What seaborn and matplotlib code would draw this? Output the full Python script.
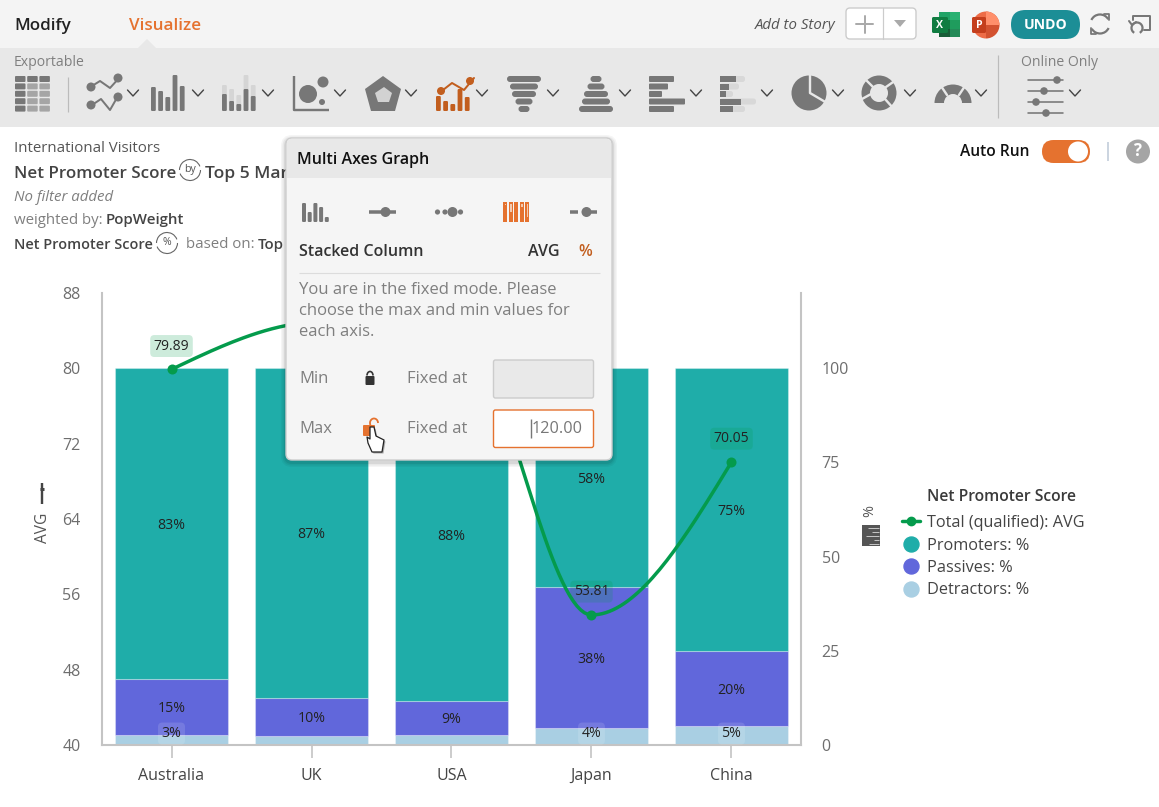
import numpy as np
import pandas as pd
import matplotlib
matplotlib.use("Agg")
import matplotlib.pyplot as plt
import seaborn as sns
from matplotlib.lines import Line2D
from matplotlib.patches import FancyBboxPatch, Rectangle, Circle, Polygon, Wedge, Arc

# ---- chart data ----
markets = ["Australia", "UK", "USA", "Japan", "China"]
avg_score = [79.89, 84.9, 85.4, 53.81, 70.05]
promoters = [82.6, 87.4, 88.3, 58.1, 75.1]
passives = [14.8, 10.2, 9.0, 37.5, 19.9]
detractors = [2.6, 2.4, 2.7, 4.4, 5.0]
avg_labelled = [True, False, False, True, True]
detractors_labelled = [True, False, False, True, True]
avg_ticks = [40, 48, 56, 64, 72, 80, 88]
pct_ticks = [0, 25, 50, 75, 100]

W, H = 1159, 807
GREEN, TEAL, INDIGO, SKY = "#049B4C", "#1FADA9", "#6167DB", "#A9CFE3"
ORANGE, ICON, TXT, MUTED = "#E5722F", "#777777", "#3C3C3C", "#7F7F7F"

sns.set_theme(style="white")
plt.rcParams["font.family"] = ["Open Sans", "DejaVu Sans"]
plt.rcParams["axes.unicode_minus"] = False

fig = plt.figure(figsize=(W / 100, H / 100), dpi=100, facecolor="white")


def px_layer(z):
    ax = fig.add_axes([0, 0, 1, 1], zorder=z)
    ax.set_xlim(0, W)
    ax.set_ylim(H, 0)
    ax.axis("off")
    ax.patch.set_visible(False)
    return ax


under = px_layer(0)
over = px_layer(5)


def label(ax, x, y, s, px=16, color=TXT, weight="normal", style="normal", ha="left", **kw):
    ax.text(x, y + 1.8, s, fontsize=px * 0.72, color=color, weight=weight, style=style,
            ha=ha, va="center", **kw)


def rbox(ax, x0, y0, x1, y1, r, fc, ec="none", lw=0, **kw):
    p = FancyBboxPatch((x0 + r, y0 + r), x1 - x0 - 2 * r, y1 - y0 - 2 * r,
                       boxstyle=f"round,pad={r},rounding_size={r}",
                       fc=fc, ec=ec, lw=lw, **kw)
    ax.add_patch(p)
    return p


def seg(ax, xs, ys, c=ICON, lw=2.0, **kw):
    ax.plot(xs, ys, color=c, lw=lw * 0.72, solid_capstyle=kw.pop("cap", "round"), **kw)


def dot(ax, x, y, r, c=ICON, **kw):
    ax.add_patch(Circle((x, y), r, fc=c, ec="none", **kw))


def chevron(ax, x, y=93):
    seg(ax, [x - 5.5, x, x + 5.5], [y - 3, y + 3, y - 3], c="#444444", lw=1.4)


# ---- page bands ----
under.add_patch(Rectangle((0, 0), W, 48, fc="#F4F4F4", ec="none"))
under.add_patch(Rectangle((0, 48), W, 79, fc="#E8E8E8", ec="none"))
under.add_patch(Polygon([[138, 48], [147, 39], [156, 48]], fc="#E8E8E8", ec="none"))

label(under, 14, 24, "Modify", 17, "#222222", weight=600)
label(under, 129, 24, "Visualize", 17, ORANGE, weight=600)
label(under, 14, 60.5, "Exportable", 14, MUTED)
label(under, 1021, 60.5, "Online Only", 14, MUTED)
label(under, 835, 23.5, "Add to Story", 15, "#555555", style="italic", ha="right")

# story button
rbox(under, 846, 8, 916, 39, 4, "white", "#CCCCCC", 1)
seg(under, [883, 883], [8, 39], c="#CCCCCC", lw=1.2)
seg(under, [856, 873], [24, 24], c="#AAAAAA", lw=2)
seg(under, [864.5, 864.5], [15.5, 32.5], c="#AAAAAA", lw=2)
under.add_patch(Polygon([[894, 20], [906, 20], [900, 27]], fc="#AAAAAA", ec="none"))

# spreadsheet export
for i, col in enumerate(["#21A366", "#107C41", "#185C37"]):
    under.add_patch(Rectangle((939, 12 + i * 8.3), 21, 8.6, fc=col, ec="none"))
under.add_patch(Rectangle((949.5, 12), 10.5, 25, fc="#33C481", ec="none", alpha=0.45))
rbox(under, 932, 17, 948, 33, 1.5, "#107C41")
label(under, 940, 23.5, "X", 10.5, "white", weight="bold", ha="center")

# slides export
under.add_patch(Wedge((986, 25), 13.5, -90, 90, fc="#D35230", ec="none"))
under.add_patch(Wedge((986, 25), 13.5, 90, 270, fc="#ED6C47", ec="none"))
under.add_patch(Wedge((986, 25), 13.5, 270, 360, fc="#FF8F6B", ec="none"))
rbox(under, 972, 17, 986, 33, 1.5, "#C43E1C")
label(under, 979, 23.5, "P", 10.5, "white", weight="bold", ha="center")

rbox(under, 1011, 10, 1080, 39, 14.5, "#1C8E96")
label(under, 1045.5, 23, "UNDO", 14, "white", weight="bold", ha="center")

# refresh icon
under.add_patch(Arc((1100, 24), 19, 19, theta1=205, theta2=330, ec=ICON, lw=1.6))
under.add_patch(Arc((1100, 24), 19, 19, theta1=25, theta2=150, ec=ICON, lw=1.6))
seg(under, [1104, 1109, 1109], [14, 14, 20], c=ICON, lw=1.8)
seg(under, [1091, 1091, 1096], [28, 34, 34], c=ICON, lw=1.8)

# presentation icon
seg(under, [1133, 1133, 1150, 1150, 1144], [20, 16, 16, 30, 30], lw=2)
under.add_patch(Arc((1137, 28), 11, 11, theta1=-240, theta2=60, ec=ICON, lw=1.6))
seg(under, [1129, 1132, 1136], [21, 25, 22], lw=2)

# table icon
for r in range(5):
    for c in range(3):
        fc = "#777777" if r == 0 or c == 0 else "#A5A5A5"
        rbox(under, 15 + c * 12.2, 76 + r * 7.4, 25.5 + c * 12.2, 82 + r * 7.4, 1, fc)
seg(under, [68, 68], [77, 112], c="#BBBBBB", lw=1.2, cap="butt")

# line icon
seg(under, [92, 100, 110, 120], [86, 81, 88, 77])
dot(under, 91, 87, 4.5)
dot(under, 118, 78, 4.5)
seg(under, [92, 101, 110, 118], [105, 99, 110, 96])
dot(under, 91, 105, 4.5)
dot(under, 118, 97, 4.5)
chevron(under, 133)


def col_icon(ax, x0, heights, base=111, w=4.8, gap=7.2, c=ICON):
    for i, h in enumerate(heights):
        rbox(ax, x0 + i * gap, base - h, x0 + i * gap + w, base, 1.2, c)


col_icon(under, 151, [24, 20, 14, 36, 25])
chevron(under, 198)

# shadow-column icon
col_icon(under, 222, [26, 22, 16, 36, 26], c="#D5D5D5")
col_icon(under, 222, [17, 10, 7, 22, 15])
chevron(under, 268)

# bubble icon
seg(under, [294, 294, 329], [76, 110, 110], lw=2.4, cap="butt")
dot(under, 308, 94, 9)
dot(under, 323, 82, 5.5)
dot(under, 322, 102, 3)
chevron(under, 340)

# radar icon
under.add_patch(Polygon([[383, 76], [401, 89], [395, 111], [371, 111], [365, 89]], fc=ICON, ec="none"))
under.add_patch(Polygon([[384, 87], [392, 93], [389, 102], [378, 102], [375, 93]], fc="#D2D2D2", ec="none"))
chevron(under, 411)

# combo icon, highlighted
seg(under, [443, 452, 464, 474], [90, 83, 90, 78], c="#C25E1E")
dot(under, 441, 91, 4, c="#C25E1E")
dot(under, 470, 81, 4, c="#C25E1E")
col_icon(under, 436, [15, 10, 7, 22, 14], c="#C25E1E")
chevron(under, 482)

# funnel icon
for i, half in enumerate([17, 14, 12, 8.5, 5.5]):
    rbox(under, 524 - half, 76 + i * 7.5, 524 + half, 82 + i * 7.5, 3, ICON)
chevron(under, 553)

# pyramid icon
for i, half in enumerate([5.5, 8.5, 12, 14, 17]):
    rbox(under, 596 - half, 76 + i * 7.5, 596 + half, 82 + i * 7.5, 3, ICON)
chevron(under, 625)

# horizontal bars icon
for i, w_ in enumerate([25, 19, 13, 36, 25]):
    rbox(under, 649, 76 + i * 7.5, 649 + w_, 82 + i * 7.5, 1, ICON)
chevron(under, 696)

# stacked horizontal bars icon
for i, (a, b) in enumerate(zip([25, 19, 13, 36, 25], [16, 9, 6, 21, 13])):
    rbox(under, 720, 76 + i * 7.5, 720 + a, 82 + i * 7.5, 2.5, "#D8D8D8")
    under.add_patch(Rectangle((720, 76 + i * 7.5), b, 6, fc=ICON, ec="none"))
chevron(under, 767)

# pie icon
dot(under, 809, 93, 17.5)
seg(under, [810, 810, 827], [75, 93, 103], c="#E8E8E8", lw=2.4)
chevron(under, 838)

# donut icon
under.add_patch(Wedge((879, 93), 17.5, 0, 360, width=8.5, fc=ICON, ec="none"))
seg(under, [866, 873], [80, 87], c="#E8E8E8", lw=2.4)
seg(under, [885, 893], [99, 108], c="#E8E8E8", lw=2.4)
seg(under, [862, 871], [99, 94], c="#E8E8E8", lw=2.4)
seg(under, [886, 896], [87, 80], c="#E8E8E8", lw=2.4)
chevron(under, 910)

# gauge icon
under.add_patch(Wedge((953, 103), 18.5, 180, 360, width=9.5, fc=ICON, ec="none"))
seg(under, [941, 947], [86, 95], c="#E8E8E8", lw=2.4)
seg(under, [965, 959], [86, 95], c="#E8E8E8", lw=2.4)
chevron(under, 981)

seg(under, [998, 998], [55, 118], c="#BBBBBB", lw=1.2, cap="butt")

# slider icon
for yy, xd in zip([80, 91, 102, 113], [1057, 1044, 1036, 1046]):
    seg(under, [1028, 1063], [yy, yy], c=ICON, lw=1.6)
    dot(under, xd, yy, 3.8)
chevron(under, 1075)

# ---- report headings ----
label(under, 14, 147, "International Visitors", 15, "#555555")
label(under, 14, 172.5, "Net Promoter Score", 17, "#444444", weight=600)
label(under, 205, 172.5, "Top 5 Markets", 17.5, "#444444", weight=600)
label(under, 14, 195.5, "No filter added", 15, MUTED, style="italic")
label(under, 14, 218.5, "weighted by: ", 15, MUTED)
label(under, 106, 218.5, "PopWeight", 15, "#444444", weight=600)
label(under, 14, 243, "Net Promoter Score", 14.5, "#444444", weight=600)
label(under, 186, 243, "based on:", 15, MUTED)
label(under, 258, 243, "Top", 15, "#444444", weight=600)


def swap_badge(ax, cx, cy, s):
    ax.add_patch(Arc((cx, cy), 21, 21, theta1=0, theta2=160, ec="#666666", lw=0.8))
    ax.add_patch(Arc((cx, cy), 21, 21, theta1=180, theta2=340, ec="#666666", lw=0.8))
    label(ax, cx, cy - 2, s, 10.5, "#555555", ha="center")


swap_badge(under, 190, 170, "by")
swap_badge(under, 167, 243, "%")

# run controls
label(under, 960, 150, "Auto Run", 15.5, "#111111", weight=600)
rbox(under, 1042, 140, 1090, 163, 11.5, ORANGE)
dot(under, 1078, 151.5, 10, c="white")
seg(under, [1108, 1108], [142, 161], c="#BCC8D6", lw=1.5, cap="butt")
dot(under, 1138, 151.5, 12, c="#A5A5A5")
label(under, 1138, 149.5, "?", 17, "white", weight="bold", ha="center")

# ---- stacked percentages on the right scale ----
ax_pct = fig.add_axes([101.5 / W, 1 - 745 / H, 700 / W, 452 / H], zorder=1)
ax_pct.patch.set_visible(False)
segments = pd.DataFrame({"market": markets, "detractors": detractors,
                         "passives": passives, "promoters": promoters})
floor = np.zeros(len(markets))
for name, col in [("detractors", SKY), ("passives", INDIGO), ("promoters", TEAL)]:
    sns.barplot(data=segments, x="market", y=name, bottom=floor, color=col, width=0.814,
                saturation=1, edgecolor=(1, 1, 1, 0.3), linewidth=0.8, ax=ax_pct, zorder=2)
    if name == "detractors":
        for i, v in enumerate(segments[name]):
            if detractors_labelled[i]:
                ax_pct.annotate(f"{v:.0f}%", (i, 3.4), xytext=(0, -1), textcoords="offset points",
                                ha="center", va="center", fontsize=10.2, color="#222222", zorder=4,
                                bbox=dict(boxstyle="round,pad=0.25,rounding_size=0.3",
                                          fc=(1, 1, 1, 0.13), ec="none"))
    else:
        for i, v in enumerate(segments[name]):
            ax_pct.annotate(f"{v:.0f}%", (i, floor[i] + v / 2), xytext=(0, -1),
                            textcoords="offset points", ha="center", va="center",
                            fontsize=10.2, color="#222222", zorder=4)
    floor = floor + segments[name].to_numpy()

ax_pct.set_ylim(0, 120)
ax_pct.set_xlim(-0.5, 4.5)
ax_pct.set_xlabel("")
ax_pct.set_ylabel("")
ax_pct.set_xticks(range(len(markets)))
ax_pct.set_xticklabels(markets)
ax_pct.tick_params(axis="x", length=9, width=1.2, color="#C4C4C4", pad=7.3, labelsize=11.5,
                   labelcolor="#444444", bottom=True)
for side, sp in ax_pct.spines.items():
    sp.set_visible(side in ("left", "right", "bottom"))
    sp.set_color("#C4C4C4")
    sp.set_linewidth(1.5)

# ---- smoothed average line on the left scale ----
ax_avg = ax_pct.twinx()
ax_avg.set_zorder(2)
ax_avg.patch.set_visible(False)
ax_avg.set_ylim(40, 88)

# twinx moves the host ticks to the left, so sides are assigned from here on
ax_pct.yaxis.tick_right()
ax_pct.set_yticks(pct_ticks)
ax_pct.set_yticklabels([str(v) for v in pct_ticks])
ax_pct.tick_params(axis="y", length=0, pad=14.5, labelsize=11.5, labelcolor="#6E6E6E",
                   right=False, left=False, labelright=True, labelleft=False)
ax_avg.yaxis.tick_left()
ax_avg.yaxis.set_label_position("left")


def monotone_curve(xs, ys, n=40):
    xs, ys = np.asarray(xs, float), np.asarray(ys, float)
    d = np.diff(ys) / np.diff(xs)
    m = np.zeros_like(ys)
    for i in range(1, len(ys) - 1):
        if d[i - 1] * d[i] > 0:
            m[i] = 2 * d[i - 1] * d[i] / (d[i - 1] + d[i])
    m[0] = 1.5 * d[0] - 0.5 * m[1]
    m[-1] = 1.5 * d[-1] - 0.5 * m[-2]
    gx, gy = [], []
    for i in range(len(xs) - 1):
        t = np.linspace(0, 1, n)
        h = xs[i + 1] - xs[i]
        gx.append(xs[i] + h * t)
        gy.append((2 * t**3 - 3 * t**2 + 1) * ys[i] + (t**3 - 2 * t**2 + t) * h * m[i]
                  + (-2 * t**3 + 3 * t**2) * ys[i + 1] + (t**3 - t**2) * h * m[i + 1])
    return np.concatenate(gx), np.concatenate(gy)


xpos = np.arange(len(markets))
grid_x, grid_y = monotone_curve(xpos, avg_score)
sns.lineplot(x=grid_x, y=grid_y, color=GREEN, linewidth=2.5, ax=ax_avg, zorder=3, legend=False)
sns.scatterplot(x=xpos, y=avg_score, color=GREEN, s=52, linewidth=0, ax=ax_avg, zorder=4, legend=False)
for i, v in enumerate(avg_score):
    if avg_labelled[i]:
        ax_avg.annotate(f"{v:.2f}", (i, v), xytext=(0, 16.8), textcoords="offset points",
                        ha="center", va="center", fontsize=10, color="#222222", zorder=5,
                        bbox=dict(boxstyle="round,pad=0.25,rounding_size=0.3",
                                  fc=(0.02, 0.61, 0.3, 0.2), ec="none"))

ax_avg.set_yticks(avg_ticks)
ax_avg.set_yticklabels([str(v) for v in avg_ticks])
ax_avg.tick_params(axis="y", length=0, pad=15, labelsize=11.5, labelcolor="#6E6E6E",
                   left=False, right=False, labelleft=True, labelright=False)
ax_avg.set_xlim(-0.5, 4.5)
ax_avg.set_xlabel("")
ax_avg.set_ylabel("")
for sp in ax_avg.spines.values():
    sp.set_visible(False)

# axis captions
label(under, 43, 526, "AVG", 15.5, "#555555", ha="center", rotation=90)
seg(under, [42, 42], [483, 504], c="#444444", lw=2.4, cap="butt")
seg(under, [40, 44], [489, 489], c="#444444", lw=3, cap="butt")
label(under, 870, 509, "%", 14.5, "#555555", ha="center", rotation=90)
under.add_patch(Rectangle((862, 525), 18, 21, fc="#555555", ec="none"))
for yy, x0_ in zip([528, 532, 536, 540, 544], [868, 872, 866, 874, 869]):
    seg(under, [x0_, 879], [yy, yy], c="#D0D0D0", lw=0.9, cap="butt")

# ---- legend ----
label(under, 927, 495, "Net Promoter Score", 15.7, "#3A3A3A", weight=600)
handles = [
    Line2D([], [], color=GREEN, lw=2.5, marker="o", ms=6),
    Line2D([], [], ls="", marker="o", ms=10.8, color=TEAL),
    Line2D([], [], ls="", marker="o", ms=10.8, color=INDIGO),
    Line2D([], [], ls="", marker="o", ms=10.8, color=SKY),
]
ax_avg.legend(handles, ["Total (qualified): AVG", "Promoters: %", "Passives: %", "Detractors: %"],
              loc="upper left", bbox_to_anchor=(902 / W, 1 - 515 / H),
              bbox_transform=fig.transFigure, frameon=False, fontsize=11.7, labelcolor="#444444",
              handlelength=1.1, handletextpad=0.42, labelspacing=0.4, borderpad=0, borderaxespad=0)

# ---- axis settings popover ----
for grow, a in [(5, 0.04), (3.5, 0.05), (2, 0.07)]:
    rbox(over, 286 - grow, 138 - grow + 2, 612 + grow, 460 + grow + 2, 6 + grow, "black", alpha=a)
rbox(over, 286, 138, 612, 460, 6, "#F5F5F5", "#CDCDCD", 1)
rbox(over, 286.8, 138.8, 611.2, 190, 5.5, "#E8E8E8")
over.add_patch(Rectangle((286.8, 178), 324.4, 14, fc="#F5F5F5", ec="none"))
label(over, 297, 158.5, "Multi Axes Graph", 16, "#111111", weight=600)

col_icon(over, 302, [19, 10, 19, 15, 5], base=222, w=4, gap=5.7)
seg(over, [369, 396], [212, 212], lw=3.5, cap="butt")
dot(over, 385.5, 212, 5)
for xd, rd in [(437.5, 2.6), (445, 2.6), (452.5, 5), (460.5, 2.6)]:
    dot(over, xd, 212, rd)
for i in range(5):
    over.add_patch(Rectangle((503 + i * 5.5, 202), 4, 20, fc=ORANGE, ec="none"))
for xd, y0, y1 in [(504.5, 203.5, 205), (510, 204, 212), (521, 204, 207), (526.5, 204, 217)]:
    over.add_patch(Rectangle((xd, y0), 1.6, y1 - y0, fc="#F3C9AE", ec="none"))
seg(over, [570, 578], [212, 212], lw=3.5, cap="butt")
seg(over, [584, 597], [212, 212], lw=3.5, cap="butt")
dot(over, 586.5, 212, 5)

label(over, 299, 250.5, "Stacked Column", 16, "#333333", weight=600)
label(over, 528, 250.5, "AVG", 16, "#333333", weight=600)
label(over, 578, 250.5, "%", 16, "#C25E1E", weight=600)
seg(over, [299, 600], [272.5, 272.5], c="#DCDCDC", lw=1.1, cap="butt")
for yy, line in zip([288.5, 309.5, 330.5], ["You are in the fixed mode. Please",
                                            "choose the max and min values for",
                                            "each axis."]):
    label(over, 299, yy, line, 16.6, MUTED)

label(over, 299, 377.5, "Min", 16.6, MUTED)
label(over, 407, 377.5, "Fixed at", 16.6, MUTED)
rbox(over, 493.5, 360, 593.5, 398, 2, "#E9E9E9", "#CCCCCC", 1)
rbox(over, 365.5, 376, 374.5, 385, 1, "#333333")
over.add_patch(Arc((370, 375.5), 6, 8, theta1=180, theta2=360, ec="#333333", lw=1.2))

label(over, 299, 427.5, "Max", 16.6, MUTED)
label(over, 407, 427.5, "Fixed at", 16.6, MUTED)
rbox(over, 493.5, 410, 593.5, 447.5, 2, "white", ORANGE, 1)
label(over, 532, 427.5, "120.00", 16.2, "#777777")
seg(over, [530.5, 530.5], [419, 438], c="#777777", lw=1.4, cap="butt")
rbox(over, 363, 425, 375, 436, 1, ORANGE)
over.add_patch(Arc((374, 423), 8, 9, theta1=150, theta2=360, ec=ORANGE, lw=1.3))

# pointer cursor
hand = [[370, 427], [370, 439], [367, 437], [368, 443], [372, 452], [382, 452],
        [384, 440], [376, 436], [374, 427]]
over.add_patch(Polygon(np.array(hand) + [1.5, 1.5], fc="black", ec="none", alpha=0.3))
over.add_patch(Polygon(hand, fc="white", ec="#222222", lw=0.9, joinstyle="round"))

fig.savefig("out.png", dpi=100)
